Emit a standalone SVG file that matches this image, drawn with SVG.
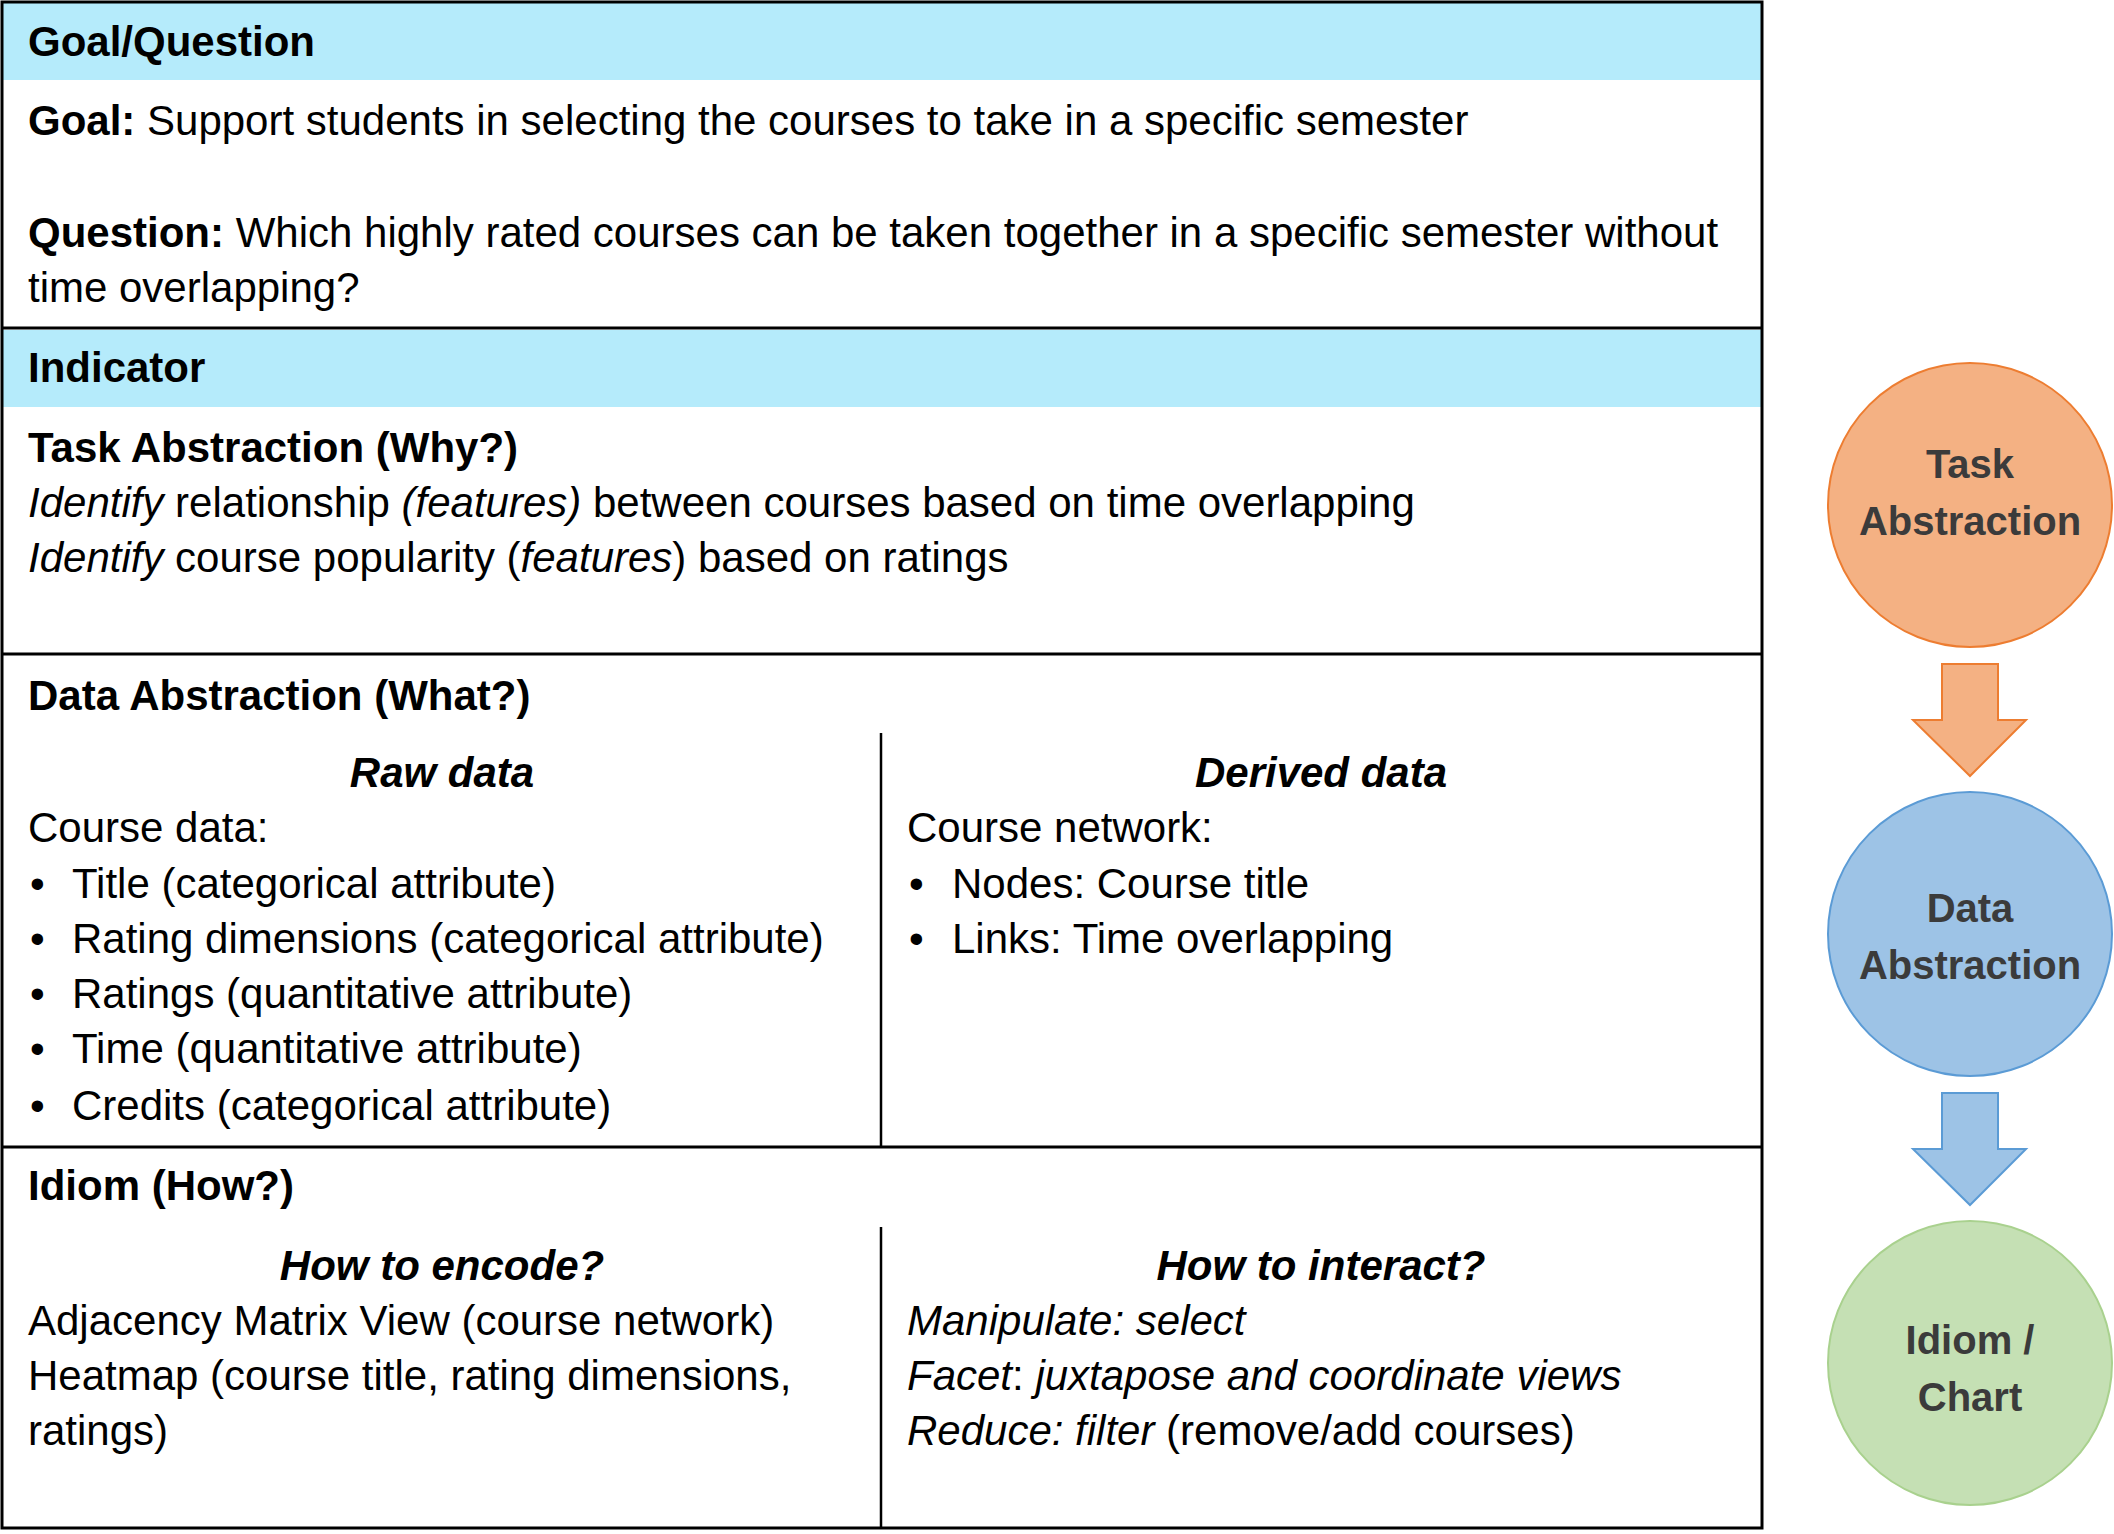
<svg xmlns="http://www.w3.org/2000/svg" width="2114" height="1534" viewBox="0 0 2114 1534">
<style>
  .t { font-family: "Liberation Sans", Arial, sans-serif; font-size: 42px; fill: #000; }
  .b { font-weight: bold; }
  .i { font-style: italic; }
  .c { text-anchor: middle; }
  .band { fill: #B5EBFB; }
  .rule { stroke: #000; stroke-width: 3; fill: none; }
  .div { stroke: #000; stroke-width: 2.5; fill: none; }
  .ct { font-family: "Liberation Sans", Arial, sans-serif; font-size: 40px; font-weight: bold; fill: #3b3b3b; text-anchor: middle; }
</style>
<rect width="2114" height="1534" fill="#fff"/>

<g id="goal-question">
  <rect class="band" x="3" y="3" width="1758" height="77"/>
  <text class="t b" x="28" y="56">Goal/Question</text>
  <text class="t" x="28" y="135"><tspan class="b">Goal:</tspan> Support students in selecting the courses to take in a specific semester</text>
  <text class="t" x="28" y="247"><tspan class="b">Question:</tspan> Which highly rated courses can be taken together in a specific semester without</text>
  <text class="t" x="28" y="302">time overlapping?</text>
</g>

<g id="indicator">
  <rect class="band" x="3" y="330" width="1758" height="77"/>
  <text class="t b" x="28" y="382">Indicator</text>
</g>

<g id="task-abstraction-section">
  <text class="t b" x="28" y="462">Task Abstraction (Why?)</text>
  <text class="t" x="28" y="517"><tspan class="i">Identify</tspan> relationship <tspan class="i">(features)</tspan> between courses based on time overlapping</text>
  <text class="t" x="28" y="572"><tspan class="i">Identify</tspan> course popularity (<tspan class="i">features</tspan>) based on ratings</text>
</g>

<g id="data-abstraction-section">
  <text class="t b" x="28" y="710">Data Abstraction (What?)</text>
  <text class="t b i c" x="442" y="787">Raw data</text>
  <text class="t" x="28" y="842">Course data:</text>
  <text class="t" x="30" y="898">•</text><text class="t" x="72" y="898">Title (categorical attribute)</text>
  <text class="t" x="30" y="953">•</text><text class="t" x="72" y="953">Rating dimensions (categorical attribute)</text>
  <text class="t" x="30" y="1008">•</text><text class="t" x="72" y="1008">Ratings (quantitative attribute)</text>
  <text class="t" x="30" y="1063">•</text><text class="t" x="72" y="1063">Time (quantitative attribute)</text>
  <text class="t" x="30" y="1120">•</text><text class="t" x="72" y="1120">Credits (categorical attribute)</text>
  <text class="t b i c" x="1321" y="787">Derived data</text>
  <text class="t" x="907" y="842">Course network:</text>
  <text class="t" x="909" y="898">•</text><text class="t" x="952" y="898">Nodes: Course title</text>
  <text class="t" x="909" y="953">•</text><text class="t" x="952" y="953">Links: Time overlapping</text>
</g>

<g id="idiom-section">
  <text class="t b" x="28" y="1200">Idiom (How?)</text>
  <text class="t b i c" x="442" y="1280">How to encode?</text>
  <text class="t" x="28" y="1335">Adjacency Matrix View (course network)</text>
  <text class="t" x="28" y="1390">Heatmap (course title, rating dimensions,</text>
  <text class="t" x="28" y="1445">ratings)</text>
  <text class="t b i c" x="1321" y="1280">How to interact?</text>
  <text class="t i" x="907" y="1335">Manipulate: select</text>
  <text class="t" x="907" y="1390"><tspan class="i">Facet</tspan>: <tspan class="i">juxtapose and coordinate views</tspan></text>
  <text class="t" x="907" y="1445"><tspan class="i">Reduce: filter</tspan> (remove/add courses)</text>
</g>

<g id="table-lines">
  <rect class="rule" x="2" y="2" width="1760" height="1526"/>
  <line class="rule" x1="2" y1="328" x2="1762" y2="328"/>
  <line class="rule" x1="2" y1="654" x2="1762" y2="654"/>
  <line class="rule" x1="2" y1="1147" x2="1762" y2="1147"/>
  <line class="div" x1="881" y1="733" x2="881" y2="1147"/>
  <line class="div" x1="881" y1="1227" x2="881" y2="1528"/>
</g>

<g id="node-task">
  <circle cx="1970" cy="505" r="142" fill="#F4B183" stroke="#ED7D31" stroke-width="2"/>
  <text class="ct" x="1970" y="478">Task</text>
  <text class="ct" x="1970" y="535">Abstraction</text>
</g>
<g id="node-data">
  <circle cx="1970" cy="934" r="142" fill="#9DC3E6" stroke="#5B9BD5" stroke-width="2"/>
  <text class="ct" x="1970" y="922">Data</text>
  <text class="ct" x="1970" y="979">Abstraction</text>
</g>
<g id="node-idiom">
  <circle cx="1970" cy="1363" r="142" fill="#C5E0B4" stroke="#A9D18E" stroke-width="2"/>
  <text class="ct" x="1970" y="1354">Idiom /</text>
  <text class="ct" x="1970" y="1411">Chart</text>
</g>

<g id="connectors">
  <polygon points="1942,664 1998,664 1998,720 2026,720 1970,776 1913,720 1942,720" fill="#F4B183" stroke="#ED7D31" stroke-width="2"/>
  <polygon points="1942,1093 1998,1093 1998,1149 2026,1149 1970,1205 1913,1149 1942,1149" fill="#9DC3E6" stroke="#5B9BD5" stroke-width="2"/>
</g>
</svg>
